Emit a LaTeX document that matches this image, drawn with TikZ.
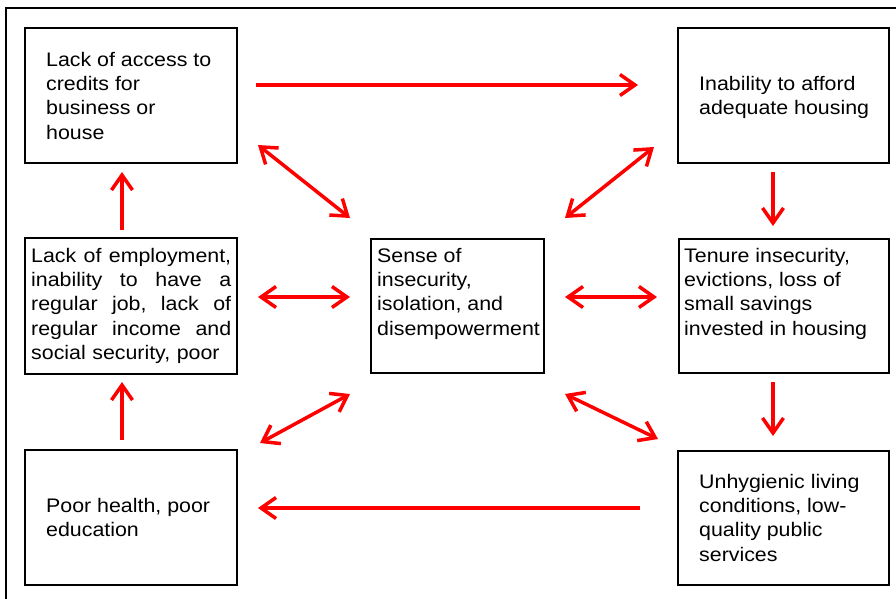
\documentclass[tikz,border=0pt]{standalone}
\usepackage{fontspec}
\setmainfont[FakeStretch=1.09]{Liberation Sans}
\usetikzlibrary{arrows.meta}
\newcommand{\jline}[1]{\leavevmode\hbox to 200pt{#1}}
\begin{document}
\begin{tikzpicture}[x=1pt,y=-1pt,
  box/.style={draw=black,line width=1.6pt,inner sep=0pt},
  txt/.style={anchor=north west,inner sep=0pt,align=left,
    font=\fontsize{19.6}{24.3}\selectfont},
  link/.style={draw=red,line width=3.5pt,
    arrows={-Straight Barb[length=15pt,width=21pt]}},
  both/.style={draw=red,line width=3.5pt,
    arrows={Straight Barb[length=15pt,width=21pt]-Straight Barb[length=15pt,width=21pt]}}]
\useasboundingbox (0,0) rectangle (896,598);
\draw[line width=1.8pt] (6,600) -- (6,8) -- (898,8);
% boxes
\node[box] (tl) at (131,95.5) [minimum width=212pt,minimum height=135pt] {};
\node[box] (tr) at (783.5,95.5) [minimum width=211pt,minimum height=135pt] {};
\node[box] (ml) at (131,306) [minimum width=212pt,minimum height=136pt] {};
\node[box] (c) at (457.5,306) [minimum width=173pt,minimum height=134pt] {};
\node[box] (mr) at (784,306) [minimum width=210pt,minimum height=134pt] {};
\node[box] (bl) at (131,517.5) [minimum width=212pt,minimum height=135pt] {};
\node[box] (br) at (783.5,518) [minimum width=211pt,minimum height=134pt] {};
% texts
\node[txt] (ttl) at (46,48) {\rule{0pt}{18pt}Lack of access to\\credits for\\business or\\house};
\node[txt] (ttr) at (699,72) {\rule{0pt}{18pt}Inability to afford\\adequate housing};
\node[txt,text width=200pt] (tml) at (31,244) {\rule{0pt}{18pt}\jline{Lack\hfill of\hfill employment,}\\
\jline{inability\hfill to\hfill have\hfill a}\\
\jline{regular\hfill job,\hfill lack\hfill of}\\
\jline{regular\hfill income\hfill and}\\
social security, poor};
\node[txt] (tc) at (377,244) {\rule{0pt}{18pt}Sense of\\insecurity,\\isolation, and\\disempowerment};
\node[txt] (tmr) at (684,244) {\rule{0pt}{18pt}Tenure insecurity,\\evictions, loss of\\small savings\\invested in housing};
\node[txt] (tbl) at (46,494) {\rule{0pt}{18pt}Poor health, poor\\education};
\node[txt] (tbr) at (699,470) {\rule{0pt}{18pt}Unhygienic living\\conditions, low-\\quality public\\services};
% arrow end points
\coordinate (a1s) at (256,85);  \coordinate (a1e) at (638,85);
\coordinate (a2s) at (258,145); \coordinate (a2e) at (350,218);
\coordinate (a3s) at (654,147); \coordinate (a3e) at (565,218);
\coordinate (a4s) at (258,297); \coordinate (a4e) at (350,297);
\coordinate (a5s) at (565,297); \coordinate (a5e) at (657,297);
\coordinate (a6s) at (260,443); \coordinate (a6e) at (350,394);
\coordinate (a7s) at (565,394); \coordinate (a7e) at (658,439);
\coordinate (a8s) at (640,508); \coordinate (a8e) at (258,508);
\coordinate (a9s) at (773,172); \coordinate (a9e) at (773,226);
\coordinate (a10s) at (773,382); \coordinate (a10e) at (773,436);
\coordinate (a11s) at (122,230); \coordinate (a11e) at (122,172);
\coordinate (a12s) at (122,440); \coordinate (a12e) at (122,382);
% arrows
\draw[link] (a1s) -- (a1e);
\draw[both] (a2s) -- (a2e);
\draw[both] (a3s) -- (a3e);
\draw[both] (a4s) -- (a4e);
\draw[both] (a5s) -- (a5e);
\draw[both] (a6s) -- (a6e);
\draw[both] (a7s) -- (a7e);
\draw[link] (a8s) -- (a8e);
\draw[link] (a9s) -- (a9e);
\draw[link] (a10s) -- (a10e);
\draw[link] (a11s) -- (a11e);
\draw[link] (a12s) -- (a12e);
\end{tikzpicture}
\end{document}
